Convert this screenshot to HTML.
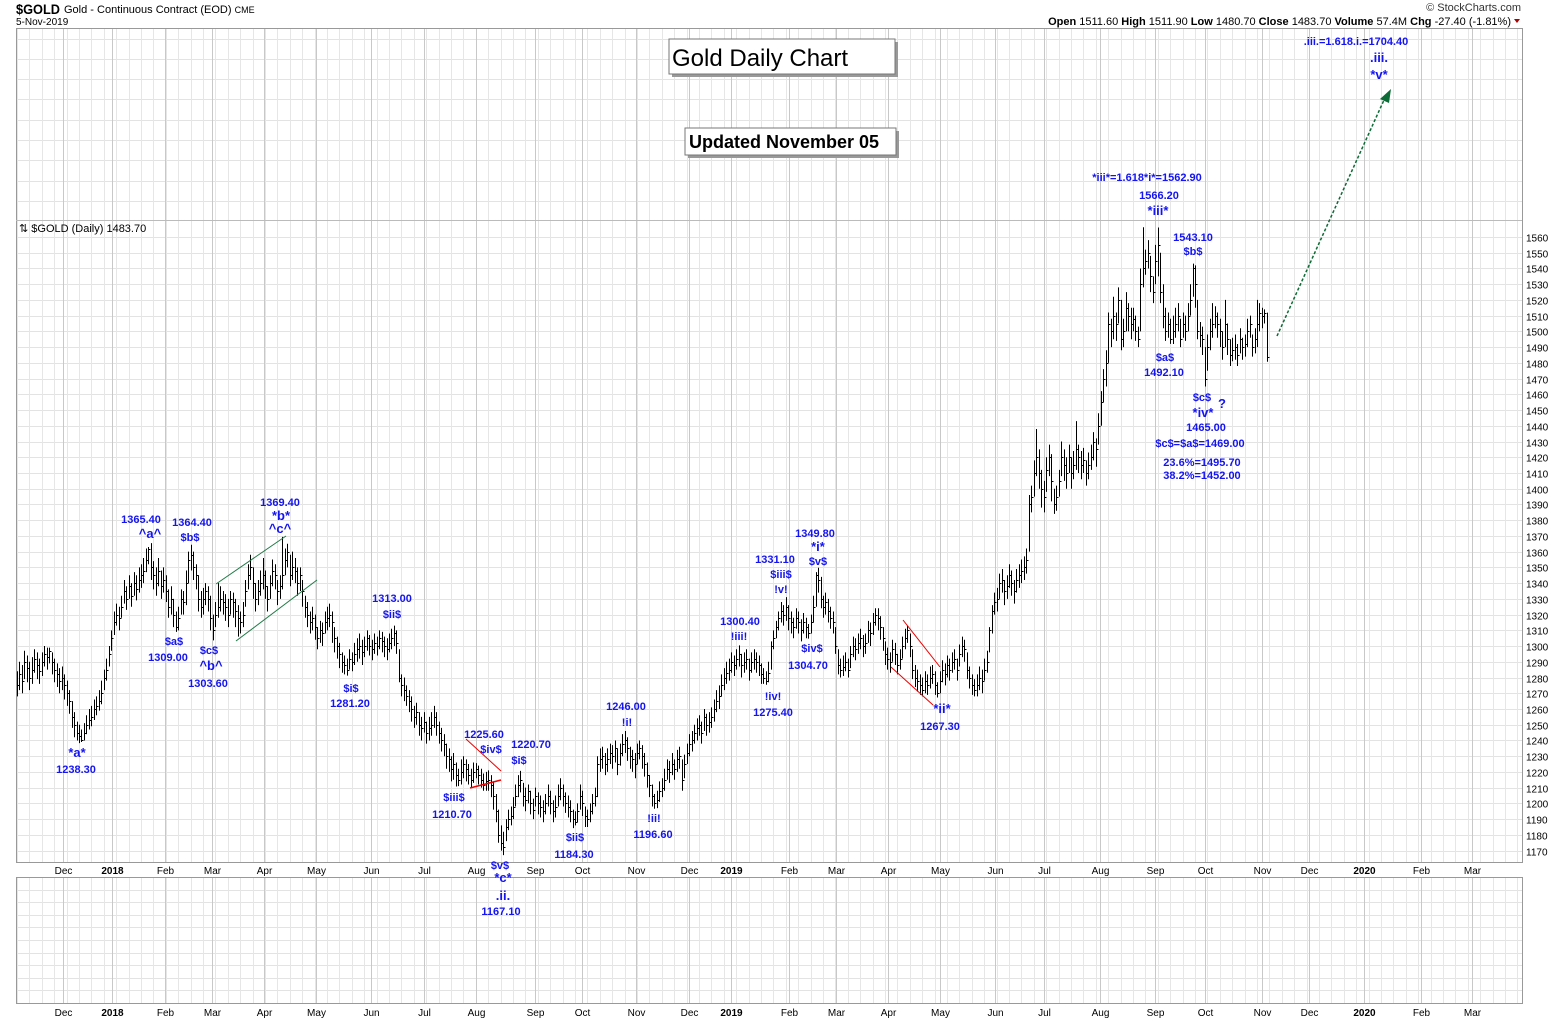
<!DOCTYPE html>
<html>
<head>
<meta charset="utf-8">
<style>
html,body{margin:0;padding:0;background:#fff;}
svg{display:block;font-family:"Liberation Sans",Arial,sans-serif;}
.ann{fill:#1414f0;font-weight:bold;font-size:11px;text-anchor:middle;}
.wave{fill:#1414f0;font-weight:bold;font-size:13px;text-anchor:middle;}
.ytick{font-size:10px;fill:#000;}
.xtick{font-size:10px;fill:#000;text-anchor:middle;}
</style>
</head>
<body>
<svg id="chart" width="1565" height="1021" viewBox="0 0 1565 1021" xmlns="http://www.w3.org/2000/svg">
<rect x="0" y="0" width="1565" height="1021" fill="#fff"/>
<g id="grid"></g>
<g id="bars"></g>
<g id="axes"></g>

<!-- header -->
<text x="16" y="14" font-size="14" font-weight="bold" textLength="44" lengthAdjust="spacingAndGlyphs">$GOLD</text>
<text x="64" y="13" font-size="11">Gold - Continuous Contract (EOD) <tspan font-size="9">CME</tspan></text>
<text x="16" y="25" font-size="10">5-Nov-2019</text>
<text x="1521" y="11" font-size="11" text-anchor="end" fill="#333">© StockCharts.com</text>
<text x="1511" y="25" font-size="11" text-anchor="end"><tspan font-weight="bold">Open</tspan> 1511.60  <tspan font-weight="bold">High</tspan> 1511.90  <tspan font-weight="bold">Low</tspan> 1480.70  <tspan font-weight="bold">Close</tspan> 1483.70  <tspan font-weight="bold">Volume</tspan> 57.4M  <tspan font-weight="bold">Chg</tspan> -27.40 (-1.81%)</text>
<polygon points="1514,19 1520,19 1517,23" fill="#a00"/>
<text x="19" y="232" font-size="11">⇅ $GOLD (Daily) 1483.70</text>

<!-- title boxes -->
<g>
<rect x="672" y="42" width="226" height="35" fill="#999"/>
<rect x="669" y="39" width="226" height="35" fill="#fff" stroke="#777"/>
<text x="672" y="66" font-size="24">Gold Daily Chart</text>
</g>
<g>
<rect x="688" y="131" width="211" height="27" fill="#999"/>
<rect x="685" y="128" width="211" height="27" fill="#fff" stroke="#777"/>
<text x="689" y="148" font-size="18" font-weight="bold">Updated November 05</text>
</g>

<!-- trend lines -->
<g>
<line x1="216" y1="584" x2="286" y2="536" stroke="#1f7a45" stroke-width="1"/>
<line x1="236" y1="641" x2="317" y2="580" stroke="#1f7a45" stroke-width="1"/>
<line x1="466" y1="739" x2="501" y2="771" stroke="#e00" stroke-width="1"/>
<line x1="470" y1="788" x2="501" y2="780" stroke="#e00" stroke-width="1.5"/>
<line x1="903" y1="620" x2="940" y2="667" stroke="#e00" stroke-width="1"/>
<line x1="891" y1="667" x2="933" y2="705" stroke="#e00" stroke-width="1"/>
<line x1="1277" y1="336" x2="1384" y2="100" stroke="#0d6b35" stroke-width="1.5" stroke-dasharray="3,2"/>
<polygon points="1391,89 1380,99 1389,103" fill="#0d6b35"/>
</g>

<!-- annotations -->
<g>
<text class="ann" x="141" y="523">1365.40</text><text class="wave" x="150" y="538">^a^</text>
<text class="ann" x="192" y="526">1364.40</text><text class="ann" x="190" y="541">$b$</text>
<text class="ann" x="280" y="506">1369.40</text><text class="wave" x="281" y="520">*b*</text><text class="wave" x="280" y="533">^c^</text>
<text class="ann" x="174" y="645">$a$</text><text class="ann" x="168" y="661">1309.00</text>
<text class="ann" x="209" y="654">$c$</text><text class="wave" x="211" y="670">^b^</text><text class="ann" x="208" y="687">1303.60</text>
<text class="wave" x="77" y="757">*a*</text><text class="ann" x="76" y="773">1238.30</text>
<text class="ann" x="392" y="602">1313.00</text><text class="ann" x="392" y="618">$ii$</text>
<text class="ann" x="351" y="692">$i$</text><text class="ann" x="350" y="707">1281.20</text>
<text class="ann" x="484" y="738">1225.60</text><text class="ann" x="491" y="753">$iv$</text>
<text class="ann" x="531" y="748">1220.70</text><text class="ann" x="519" y="764">$i$</text>
<text class="ann" x="454" y="801">$iii$</text><text class="ann" x="452" y="818">1210.70</text>
<text class="ann" x="500" y="869">$v$</text><text class="wave" x="503" y="882">*c*</text><text class="wave" x="503" y="900">.ii.</text><text class="ann" x="501" y="915">1167.10</text>
<text class="ann" x="575" y="841">$ii$</text><text class="ann" x="574" y="858">1184.30</text>
<text class="ann" x="626" y="710">1246.00</text><text class="ann" x="627" y="726">!i!</text>
<text class="ann" x="654" y="822">!ii!</text><text class="ann" x="653" y="838">1196.60</text>
<text class="ann" x="740" y="625">1300.40</text><text class="ann" x="739" y="640">!iii!</text>
<text class="ann" x="773" y="700">!iv!</text><text class="ann" x="773" y="716">1275.40</text>
<text class="ann" x="775" y="563">1331.10</text><text class="ann" x="781" y="578">$iii$</text><text class="ann" x="781" y="593">!v!</text>
<text class="ann" x="815" y="537">1349.80</text><text class="wave" x="818" y="551">*i*</text><text class="ann" x="818" y="565">$v$</text>
<text class="ann" x="812" y="652">$iv$</text><text class="ann" x="808" y="669">1304.70</text>
<text class="wave" x="942" y="713">*ii*</text><text class="ann" x="940" y="730">1267.30</text>
<text class="ann" x="1147" y="181">*iii*=1.618*i*=1562.90</text><text class="ann" x="1159" y="199">1566.20</text><text class="wave" x="1158" y="215">*iii*</text>
<text class="ann" x="1193" y="241">1543.10</text><text class="ann" x="1193" y="255">$b$</text>
<text class="ann" x="1165" y="361">$a$</text><text class="ann" x="1164" y="376">1492.10</text>
<text class="ann" x="1202" y="401">$c$</text><text class="wave" x="1222" y="408" font-size="15">?</text><text class="wave" x="1203" y="417">*iv*</text>
<text class="ann" x="1206" y="431">1465.00</text><text class="ann" x="1200" y="447">$c$=$a$=1469.00</text>
<text class="ann" x="1202" y="466">23.6%=1495.70</text><text class="ann" x="1202" y="479">38.2%=1452.00</text>
<text class="ann" x="1356" y="45">.iii.=1.618.i.=1704.40</text><text class="wave" x="1379" y="62">.iii.</text><text class="wave" x="1379" y="79">*v*</text>
</g>

<script>
const highs = [
1284,1290,1288,1297,1294,1290,1293,1298,1296,1292, 1296,1300,1299,1299,1296,1292,1289,1286,1287,1282,
1278,1272,1265,1258,1252,1250,1247,1251,1256,1260, 1262,1266,1268,1272,1278,1285,1292,1300,1310,1322,
1327,1325,1332,1342,1338,1345,1340,1347,1345,1350, 1352,1356,1362,1363,1365.4,1354,1350,1356,1348,1350,
1345,1336,1338,1330,1322,1325,1336,1335,1348,1360, 1364.4,1360,1352,1345,1335,1337,1340,1338,1332,1320,
1328,1340,1338,1335,1333,1330,1335,1334,1330,1326, 1322,1328,1342,1352,1358,1350,1340,1342,1348,1356,
1348,1338,1345,1355,1352,1342,1345,1369.4,1362,1365, 1358,1360,1356,1350,1350,1342,1332,1328,1322,1325,
1320,1312,1316,1315,1322,1325,1327,1322,1312,1306, 1302,1296,1294,1292,1298,1296,1302,1305,1308,1304,
1306,1310,1307,1304,1308,1306,1310,1309,1306,1305, 1308,1311,1313,1310,1298,1282,1280,1275,1272,1268,
1262,1264,1258,1255,1258,1252,1255,1258,1262,1258, 1252,1248,1244,1238,1235,1230,1232,1226,1222,1228,
1230,1228,1225,1222,1226,1225.6,1224,1222,1219,1220, 1221,1218,1214,1206,1196,1186,1182,1190,1196,1198,
1204,1212,1218,1220.7,1213,1210,1212,1208,1203,1210, 1207,1205,1202,1206,1212,1208,1202,1205,1212,1216,
1212,1207,1205,1202,1196,1195,1200,1212,1208,1198, 1196,1200,1206,1210,1230,1235,1236,1232,1235,1238,
1237,1240,1235,1238,1244,1246,1242,1236,1234,1232, 1238,1240,1237,1232,1226,1218,1212,1206,1208,1214,
1216,1222,1228,1227,1232,1228,1234,1236,1228,1231, 1238,1244,1246,1250,1254,1256,1252,1260,1257,1258,
1261,1266,1272,1275,1282,1286,1290,1292,1296,1294, 1298,1300.4,1295,1296,1298,1292,1296,1298,1296,1294,
1289,1286,1284,1290,1303,1310,1316,1322,1328,1326, 1331.1,1326,1322,1318,1324,1322,1317,1321,1318,1314,
1320,1332,1347,1349.8,1344,1332,1334,1330,1325,1322, 1312,1298,1292,1294,1296,1292,1300,1306,1305,1308,
1311,1307,1308,1316,1315,1321,1324,1324,1319,1312, 1303,1299,1296,1304,1302,1295,1298,1306,1311,1313,
1308,1298,1288,1285,1282,1280,1284,1282,1287,1288, 1284,1277,1284,1291,1289,1294,1292,1296,1298,1292,
1301,1306,1304,1296,1287,1282,1279,1282,1287,1285, 1292,1297,1312,1326,1334,1337,1346,1349,1342,1345,
1352,1348,1342,1349,1352,1355,1357,1362,1396,1402, 1418,1438,1425,1412,1405,1420,1428,1422,1400,1402,
1412,1430,1425,1420,1428,1420,1424,1443,1428,1424, 1426,1418,1423,1428,1436,1432,1448,1462,1476,1488,
1512,1508,1522,1512,1528,1520,1508,1525,1518,1515, 1515,1510,1503,1540,1566.2,1552,1558,1548,1535,1555,
1566,1550,1530,1515,1512,1508,1510,1515,1518,1508, 1512,1510,1518,1530,1543.1,1542,1520,1506,1503,1490,
1498,1508,1518,1516,1512,1508,1500,1520,1505,1495, 1496,1498,1492,1502,1496,1498,1508,1510,1498,1502,
1520,1518,1515,1514,1511.9];
const lows = [
1268,1272,1270,1279,1277,1272,1276,1283,1279,1276, 1281,1287,1285,1289,1282,1277,1274,1270,1272,1266,
1262,1257,1248,1242,1240,1238.3,1239,1240,1244,1247, 1249,1253,1256,1259,1263,1272,1278,1287,1297,1307,
1313,1310,1318,1327,1323,1330,1325,1332,1329,1334, 1337,1340,1347,1352,1342,1336,1332,1338,1330,1334,
1328,1318,1320,1312,1309,1310,1320,1320,1326,1340, 1348,1342,1336,1322,1318,1320,1326,1322,1310,1303.6,
1312,1318,1322,1320,1316,1312,1320,1318,1312,1306, 1308,1312,1325,1336,1342,1330,1322,1326,1332,1336,
1330,1322,1330,1338,1336,1326,1330,1336,1345,1350, 1338,1342,1340,1332,1335,1325,1318,1312,1308,1310,
1304,1298,1302,1300,1308,1310,1312,1302,1296,1292, 1286,1283,1282,1281.2,1285,1284,1288,1290,1292,1288,
1293,1297,1294,1291,1295,1294,1298,1296,1293,1291, 1296,1298,1300,1295,1277,1268,1265,1262,1258,1252,
1248,1250,1243,1240,1245,1238,1240,1243,1248,1243, 1238,1233,1230,1222,1220,1214,1215,1210.7,1211,1212,
1216,1214,1212,1210,1213,1216,1212,1210,1208,1208, 1208,1204,1196,1188,1175,1170,1167.1,1176,1183,1186,
1190,1198,1204,1207,1198,1195,1200,1193,1190,1198, 1193,1191,1188,1193,1198,1193,1188,1191,1198,1202,
1198,1194,1191,1188,1184.3,1186,1188,1196,1192,1185, 1185,1188,1193,1198,1204,1220,1222,1218,1220,1225,
1222,1226,1218,1224,1230,1232,1227,1222,1220,1216, 1225,1228,1222,1217,1210,1204,1198,1196.6,1197,1201,
1204,1208,1215,1213,1218,1215,1220,1222,1208,1216, 1225,1230,1233,1238,1240,1243,1238,1246,1243,1245,
1248,1252,1258,1260,1268,1272,1276,1278,1283,1281, 1285,1287,1280,1283,1285,1278,1283,1285,1283,1281,
1276,1276,1275.4,1277,1285,1298,1305,1310,1315,1313, 1316,1310,1308,1305,1311,1308,1303,1308,1305,1304.7,
1308,1315,1325,1334,1324,1318,1320,1315,1311,1308, 1295,1282,1280,1281,1284,1280,1286,1293,1291,1295,
1298,1293,1295,1302,1300,1307,1313,1310,1304,1297, 1288,1285,1283,1290,1288,1282,1285,1292,1298,1302,
1293,1279,1274,1271,1269,1268,1270,1269,1273,1276, 1269,1267.3,1270,1277,1275,1280,1278,1283,1285,1278,
1287,1293,1290,1279,1273,1269,1268,1268,1272,1270, 1278,1283,1296,1308,1320,1322,1330,1334,1326,1330,
1337,1332,1327,1334,1337,1340,1342,1346,1360,1385, 1395,1408,1400,1388,1385,1398,1408,1392,1384,1386,
1395,1408,1405,1400,1410,1400,1406,1412,1410,1406, 1410,1402,1406,1412,1418,1414,1428,1440,1455,1465,
1480,1490,1495,1494,1505,1488,1490,1500,1500,1495, 1500,1494,1490,1500,1528,1536,1540,1525,1518,1530,
1535,1518,1502,1494,1496,1492.1,1492,1496,1500,1490, 1496,1494,1500,1510,1522,1515,1495,1490,1485,1465,
1475,1488,1496,1502,1496,1490,1482,1490,1485,1478, 1481,1482,1478,1486,1482,1484,1490,1496,1484,1486,
1490,1500,1502,1505,1480.7];
const closes = [
1275,1282,1278,1290,1286,1280,1285,1292,1288,1284, 1290,1295,1293,1297,1290,1285,1282,1278,1280,1275,
1270,1265,1255,1250,1245,1243,1240,1245,1250,1253, 1255,1260,1262,1265,1270,1280,1285,1295,1305,1315,
1320,1318,1325,1335,1330,1338,1332,1340,1336,1342, 1345,1348,1355,1362,1350,1345,1340,1348,1338,1342,
1335,1325,1330,1320,1312,1318,1330,1328,1340,1355, 1358,1350,1345,1330,1325,1330,1335,1330,1318,1310,
1320,1325,1330,1328,1325,1320,1330,1328,1322,1318, 1315,1320,1335,1345,1350,1340,1330,1335,1340,1345,
1338,1330,1340,1348,1345,1335,1338,1345,1355,1360, 1345,1350,1348,1340,1345,1335,1325,1320,1315,1318,
1312,1305,1310,1308,1315,1318,1320,1315,1305,1300, 1295,1290,1288,1285,1292,1290,1295,1298,1300,1296,
1300,1305,1300,1298,1302,1300,1305,1303,1300,1298, 1302,1305,1308,1302,1280,1275,1272,1268,1265,1260,
1255,1258,1250,1248,1252,1245,1248,1250,1255,1250, 1245,1240,1238,1230,1228,1222,1225,1218,1215,1220,
1225,1222,1218,1215,1220,1222,1218,1215,1212,1214, 1215,1212,1205,1195,1180,1175,1172,1185,1190,1192,
1198,1205,1212,1215,1205,1202,1208,1200,1196,1205, 1200,1198,1195,1200,1205,1200,1195,1198,1205,1210,
1205,1200,1198,1195,1190,1188,1195,1205,1200,1192, 1190,1195,1200,1205,1225,1228,1230,1225,1228,1232,
1230,1235,1225,1232,1238,1240,1235,1230,1228,1225, 1232,1235,1230,1225,1218,1212,1205,1200,1202,1208,
1210,1215,1222,1220,1225,1222,1228,1230,1215,1225, 1232,1238,1240,1245,1248,1250,1245,1255,1250,1252,
1255,1260,1265,1268,1275,1280,1283,1285,1290,1288, 1292,1295,1288,1290,1292,1285,1290,1292,1290,1288,
1282,1280,1278,1283,1300,1305,1312,1318,1322,1320, 1325,1318,1315,1312,1318,1315,1310,1315,1312,1308,
1315,1325,1345,1342,1330,1325,1328,1322,1318,1315, 1300,1288,1285,1287,1290,1285,1295,1300,1298,1302,
1305,1300,1302,1310,1308,1315,1320,1318,1312,1305, 1295,1292,1290,1298,1295,1288,1292,1300,1305,1310,
1300,1285,1280,1278,1275,1272,1278,1275,1280,1282, 1275,1270,1278,1285,1282,1288,1285,1290,1292,1285,
1295,1300,1298,1285,1280,1275,1272,1275,1280,1278, 1285,1290,1310,1322,1328,1330,1340,1342,1335,1338,
1345,1340,1335,1342,1345,1348,1350,1355,1390,1395, 1410,1420,1410,1400,1395,1412,1420,1405,1390,1395,
1405,1420,1415,1410,1420,1410,1415,1425,1420,1415, 1418,1410,1415,1420,1430,1425,1440,1455,1470,1480,
1505,1500,1510,1505,1520,1495,1500,1515,1510,1505, 1508,1500,1495,1530,1540,1545,1550,1535,1525,1545,
1555,1525,1510,1500,1505,1495,1500,1505,1510,1495, 1505,1500,1510,1520,1540,1530,1500,1498,1495,1470,
1490,1500,1505,1510,1505,1500,1490,1505,1495,1485, 1488,1490,1485,1495,1490,1492,1500,1505,1490,1495,
1505,1512,1510,1512,1483.7];
const yTicks = [1170,1180,1190,1200,1210,1220,1230,1240,1250,1260,1270,1280,1290,1300,1310,1320,1330,1340,1350,1360,1370,1380,1390,1400,1410,1420,1430,1440,1450,1460,1470,1480,1490,1500,1510,1520,1530,1540,1550,1560];
const monthLabels = ["Dec","2018","Feb","Mar","Apr","May","Jun","Jul","Aug","Sep","Oct","Nov","Dec","2019","Feb","Mar","Apr","May","Jun","Jul","Aug","Sep","Oct","Nov","Dec","2020","Feb","Mar"];
const monthStartDay = [18.5,38.3,59.7,78.6,99.6,120.6,142.7,164,185,208.9,227.9,249.6,271,288,311.2,330.2,351.2,372.2,394.4,414.1,436.7,458.9,479,502,521,543,566,586.5];

const NS = "http://www.w3.org/2000/svg";
const X0 = 17, DX = 2.48;
const PL = 16, PR = 1522, PT = 28, PB = 862;
function xOf(i){ return X0 + DX * i; }
function yOf(p){ return 237 + (1560 - p) * 1.5733; }
function mk(tag, attrs, parent){
  const e = document.createElementNS(NS, tag);
  for (const k in attrs) e.setAttribute(k, attrs[k]);
  parent.appendChild(e);
  return e;
}
const grid = document.getElementById('grid');
const bars = document.getElementById('bars');
const axes = document.getElementById('axes');

for (let y = 38.5; y < 220; y += 20.3) {
  const l = mk('line', {x1:PL, x2:PR, y1:Math.round(y)+0.5, y2:Math.round(y)+0.5, stroke:'#e3e3e3'}, grid);
  
  
}
yTicks.forEach(p => {
  const y = Math.round(yOf(p)) + 0.5;
  const l = mk('line', {x1:PL, x2:PR, y1:y, y2:y, stroke:'#e3e3e3'}, grid);
  
  
  const t = mk('text', {x:1526, y:y+4, class:'ytick'}, axes);
  t.textContent = p;
  
  
});
for (let y = 889.5; y < 1003; y += 12.6) {
  const l = mk('line', {x1:PL, x2:PR, y1:Math.round(y)+0.5, y2:Math.round(y)+0.5, stroke:'#e3e3e3'}, grid);
  
  
}
for (let i = 0; xOf(i) < PR; i += 5) {
  const x = Math.round(xOf(i)) + 0.5;
  const a = mk('line', {x1:x, x2:x, y1:PT, y2:PB, stroke:'#e6e6e6'}, grid);
  
  
  const b = mk('line', {x1:x, x2:x, y1:877, y2:1003, stroke:'#e6e6e6'}, grid);
  
  
}
monthLabels.forEach((m, k) => {
  const x = Math.round(xOf(monthStartDay[k])) + 0.5;
  const a = mk('line', {x1:x, x2:x, y1:PT, y2:PB, stroke:'#c8c8c8'}, grid);
  
  
  const b = mk('line', {x1:x, x2:x, y1:877, y2:1003, stroke:'#c8c8c8'}, grid);
  
  
  [874, 1016].forEach(ty => {
    const t = mk('text', {x:x, y:ty, class:'xtick'}, axes);
    if (/^\d{4}$/.test(m)) t.setAttribute('font-weight', 'bold');
    t.textContent = m;
    
    
  });
});
const f1 = mk('rect', {x:PL+0.5, y:PT+0.5, width:PR-PL, height:PB-PT, fill:'none', stroke:'#999'}, axes);


const sep = mk('line', {x1:PL, x2:PR, y1:220.5, y2:220.5, stroke:'#bbb'}, axes);


const f2 = mk('rect', {x:PL+0.5, y:877.5, width:PR-PL, height:126, fill:'none', stroke:'#999'}, axes);



closes.forEach((c, i) => {
  const x = Math.round(xOf(i)) + 0.5;
  const v = mk('line', {x1:x, x2:x, y1:yOf(highs[i]), y2:yOf(lows[i]), stroke:'#000', 'stroke-width':1}, bars);
  
  
  const cy = Math.round(yOf(c)) + 0.5;
  const t = mk('line', {x1:x, x2:x+2, y1:cy, y2:cy, stroke:'#000', 'stroke-width':1}, bars);
  
  
});
</script>
</svg>
</body>
</html>
